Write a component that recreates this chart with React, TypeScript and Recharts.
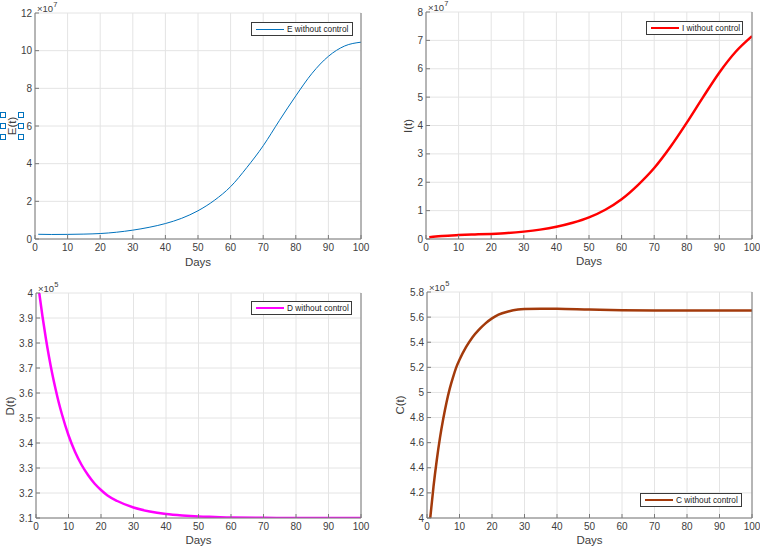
import React from 'react';
import { LineChart, Line, XAxis, YAxis, CartesianGrid } from 'recharts';

// E(t), values in units of 1e7
const daysE = [1, 5, 10, 15, 20, 25, 30, 35, 40, 45, 50, 55, 60, 65, 70, 75, 80, 85, 90, 95, 100];
const valuesE = [0.25, 0.24, 0.245, 0.26, 0.29, 0.36, 0.47, 0.62, 0.82, 1.1, 1.5, 2.05, 2.78, 3.8, 4.95, 6.3, 7.6, 8.8, 9.7, 10.25, 10.45];

// I(t), values in units of 1e7
const daysI = [1, 3, 5, 10, 15, 20, 25, 30, 35, 40, 45, 50, 55, 60, 65, 70, 75, 80, 85, 90, 95, 100];
const valuesI = [0.06, 0.09, 0.11, 0.14, 0.16, 0.18, 0.21, 0.26, 0.33, 0.43, 0.57, 0.76, 1.03, 1.4, 1.9, 2.5, 3.25, 4.1, 5.0, 5.87, 6.6, 7.15];

// D(t), values in units of 1e5
const daysD = [1, 2, 3, 4, 5, 6, 7, 8, 10, 12, 14, 16, 18, 20, 22, 25, 30, 35, 40, 45, 50, 55, 60, 70, 80, 90, 100];
const valuesD = [4.0, 3.906, 3.821, 3.745, 3.677, 3.617, 3.562, 3.514, 3.431, 3.365, 3.313, 3.272, 3.238, 3.212, 3.19, 3.168, 3.142, 3.126, 3.116, 3.11, 3.106, 3.104, 3.102, 3.101, 3.1, 3.1, 3.1];

// C(t), values in units of 1e5
const daysC = [1, 2, 3, 4, 5, 6, 7, 8, 9, 10, 12, 14, 16, 18, 20, 22, 25, 28, 30, 35, 40, 50, 60, 70, 80, 90, 100];
const valuesC = [4.0, 4.25, 4.46, 4.64, 4.79, 4.92, 5.03, 5.12, 5.2, 5.26, 5.36, 5.44, 5.5, 5.55, 5.59, 5.62, 5.645, 5.66, 5.664, 5.667, 5.666, 5.66, 5.655, 5.653, 5.652, 5.652, 5.652];

const ticksX = [0, 10, 20, 30, 40, 50, 60, 70, 80, 90, 100];
const ticksE = [0, 2, 4, 6, 8, 10, 12];
const ticksI = [0, 1, 2, 3, 4, 5, 6, 7, 8];
const ticksD = [3.1, 3.2, 3.3, 3.4, 3.5, 3.6, 3.7, 3.8, 3.9, 4];
const ticksC = [4, 4.2, 4.4, 4.6, 4.8, 5, 5.2, 5.4, 5.6, 5.8];

const FONT = '"Liberation Sans", Arial, Helvetica, sans-serif';
const AXIS = '#7a7a7a';
const TEXT = '#404040';
const GRID = '#e4e4e4';

const rows = (days: number[], vals: number[]) => days.map((d, i) => ({ day: d, v: vals[i] }));

type PanelProps = {
  x: number; y: number; w: number; h: number;
  pl: number; pr: number; pt: number; pb: number;
  days: number[]; values: number[]; yTicks: number[];
  color: string; strokeWidth: number;
  yLabel: string; yLabelX: number; exponent: string;
  legend: string; legendX: number; legendY: number; legendW: number;
  daysOffset: number;
};

function Panel(p: PanelProps) {
  const data = rows(p.days, p.values);
  const yDomain = [p.yTicks[0], p.yTicks[p.yTicks.length - 1]];
  const tick = { fill: TEXT, fontSize: 10, fontFamily: FONT };
  const midY = (p.pt + p.pb) / 2;
  return (
    <>
      <div style={{ position: 'absolute', left: p.x, top: p.y, width: p.w, height: p.h }}>
        <LineChart
          width={p.w}
          height={p.h}
          data={data}
          margin={{ top: p.pt - p.y, right: 0, left: 0, bottom: 0 }}
        >
          <CartesianGrid stroke={GRID} strokeWidth={1} />
          <XAxis
            dataKey="day"
            type="number"
            domain={[0, 100]}
            ticks={ticksX}
            allowDataOverflow
            height={p.y + p.h - p.pb}
            stroke={AXIS}
            tickSize={-4}
            tickMargin={9}
            tick={tick}
            label={{ value: 'Days', position: 'insideBottom', offset: p.daysOffset, fill: TEXT, fontSize: 11.5, fontFamily: FONT }}
          />
          <XAxis
            xAxisId="top"
            orientation="top"
            type="number"
            domain={[0, 100]}
            ticks={ticksX}
            height={0}
            stroke={AXIS}
            tickSize={-4}
            tickFormatter={() => ''}
          />
          <YAxis
            type="number"
            domain={yDomain}
            ticks={p.yTicks}
            allowDataOverflow
            width={p.pl - p.x}
            stroke={AXIS}
            tickSize={-4}
            tickMargin={7}
            tick={tick}
            interval={0}
          />
          <YAxis
            yAxisId="right"
            orientation="right"
            type="number"
            domain={yDomain}
            ticks={p.yTicks}
            width={p.x + p.w - p.pr}
            stroke={AXIS}
            tickSize={-4}
            tickFormatter={() => ''}
            interval={0}
          />
          <Line
            type="monotone"
            dataKey="v"
            stroke={p.color}
            strokeWidth={p.strokeWidth}
            dot={false}
            isAnimationActive={false}
          />
        </LineChart>
      </div>
      <div
        style={{
          position: 'absolute', left: p.pl + 2, top: p.pt - 13, fontFamily: FONT,
          fontSize: 9.5, color: TEXT, lineHeight: '12px', whiteSpace: 'nowrap',
        }}
      >
        ×10<sup style={{ fontSize: 7.5, position: 'relative', top: -1 }}>{p.exponent}</sup>
      </div>
      <div
        style={{
          position: 'absolute', left: p.yLabelX, top: midY, fontFamily: FONT, fontSize: 11.5,
          color: TEXT, transform: 'translate(-50%, -50%) rotate(-90deg)', whiteSpace: 'nowrap',
        }}
      >
        {p.yLabel}
      </div>
      <div
        style={{
          position: 'absolute', left: p.legendX, top: p.legendY, width: p.legendW, height: 14,
          boxSizing: 'border-box', border: '1px solid #3a3a3a', background: '#fff',
          display: 'flex', alignItems: 'center', fontFamily: FONT, fontSize: 8.3, color: '#222',
          whiteSpace: 'nowrap',
        }}
      >
        <div style={{ marginLeft: 4, width: 28, height: p.strokeWidth, background: p.color }} />
        <span style={{ marginLeft: 3 }}>{p.legend}</span>
      </div>
    </>
  );
}

const handles = [
  [3, 115], [21, 115], [3, 126], [21, 126], [3, 137], [21, 137],
];

export default function App() {
  return (
    <div style={{ position: 'absolute', left: 0, top: 0, width: 760, height: 547, background: '#fff', overflow: 'hidden' }}>
      <Panel
        x={0} y={0} w={380} h={270} pl={35} pr={361} pt={13} pb={239}
        days={daysE} values={valuesE} yTicks={ticksE}
        color="#0072BD" strokeWidth={1}
        yLabel="E(t)" yLabelX={12} exponent="7"
        legend="E without control" legendX={251} legendY={22} legendW={102}
        daysOffset={4}
      />
      <Panel
        x={380} y={0} w={380} h={270} pl={426} pr={752} pt={12} pb={239}
        days={daysI} values={valuesI} yTicks={ticksI}
        color="#FF0000" strokeWidth={2.5}
        yLabel="I(t)" yLabelX={408} exponent="7"
        legend="I without control" legendX={646} legendY={21} legendW={97}
        daysOffset={5}
      />
      <Panel
        x={0} y={270} w={380} h={277} pl={36} pr={361} pt={293} pb={518}
        days={daysD} values={valuesD} yTicks={ticksD}
        color="#FF00FF" strokeWidth={2.5}
        yLabel="D(t)" yLabelX={10} exponent="5"
        legend="D without control" legendX={251} legendY={301} legendW={101}
        daysOffset={3}
      />
      <Panel
        x={380} y={270} w={380} h={277} pl={427} pr={752} pt={292} pb={518}
        days={daysC} values={valuesC} yTicks={ticksC}
        color="#A33A0B" strokeWidth={2.5}
        yLabel="C(t)" yLabelX={400} exponent="5"
        legend="C without control" legendX={640} legendY={493} legendW={102}
        daysOffset={3}
      />
      {handles.map(([hx, hy], i) => (
        <div
          key={i}
          style={{
            position: 'absolute', left: hx - 3, top: hy - 3, width: 6, height: 6,
            boxSizing: 'border-box', border: '1.5px solid #0072BD', background: '#fff',
          }}
        />
      ))}
    </div>
  );
}
